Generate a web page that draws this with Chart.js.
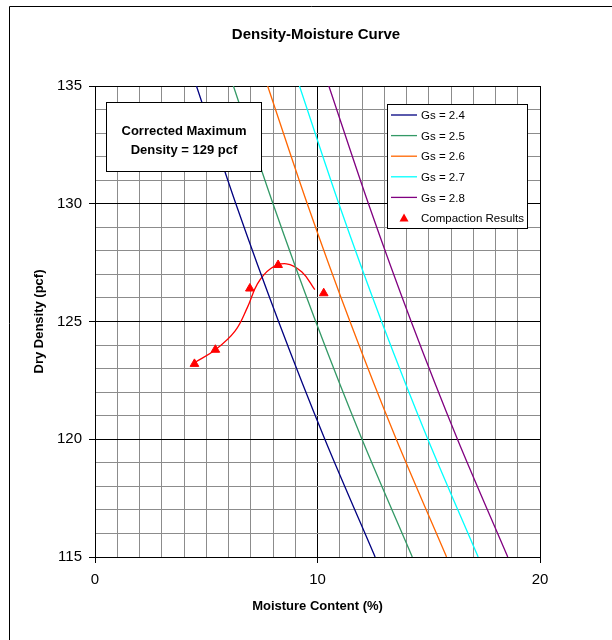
<!DOCTYPE html>
<html>
<head>
<meta charset="utf-8">
<script src="https://cdn.jsdelivr.net/npm/chart.js@4/dist/chart.umd.min.js"></script>
<style>
  html, body { margin: 0; padding: 0; background: #fff; }
  canvas { display: block; }
</style>
</head>
<body>
<canvas id="densityChart" width="612" height="640"></canvas>
<script>
// zero air voids lines, moisture (%) read at each density level
const densityLevels = [135, 130, 125, 120, 115];
const moistGs24 = [4.56, 6.33, 8.25, 10.33, 12.59];
const moistGs25 = [6.22, 8.00, 9.92, 12.00, 14.26];
const moistGs26 = [7.76, 9.54, 11.46, 13.54, 15.80];
const moistGs27 = [9.19, 10.96, 12.88, 14.96, 17.22];
const moistGs28 = [10.51, 12.29, 14.21, 16.29, 18.55];
const gsLabels = ["Gs = 2.4", "Gs = 2.5", "Gs = 2.6", "Gs = 2.7", "Gs = 2.8"];
const gsColors = ["#000080", "#339966", "#ff6600", "#00ffff", "#800080"];

// compaction test results
const compMoisture = [4.47, 5.41, 6.96, 8.23, 10.28];
const compDensity = [123.2, 123.8, 126.4, 127.4, 126.2];

// fitted curve through the results
const fitMoisture = [4.47, 5.41, 6.3, 6.85, 7.3, 7.9, 8.6, 9.3, 9.88];
const fitDensity = [123.25, 123.8, 124.6, 125.6, 126.6, 127.25, 127.45, 127.1, 126.35];

const xTicks = [0, 10, 20];
const yTicks = [115, 120, 125, 130, 135];

const pairs = (xs, ys) => xs.map((x, i) => ({ x: x, y: ys[i] }));

const gsData = [moistGs24, moistGs25, moistGs26, moistGs27, moistGs28];
const datasets = gsData.map((m, i) => ({
  label: gsLabels[i],
  data: pairs(m, densityLevels),
  showLine: true,
  borderColor: gsColors[i],
  borderWidth: 1.3,
  pointRadius: 0,
  tension: 0.3
}));
datasets.push({
  label: "Compaction Results",
  data: pairs(compMoisture, compDensity),
  showLine: false,
  pointStyle: "triangle",
  pointRadius: 5,
  backgroundColor: "#ff0000",
  borderColor: "#ff0000",
  borderWidth: 1
});
datasets.push({
  label: "fit",
  data: pairs(fitMoisture, fitDensity),
  showLine: true,
  borderColor: "#ff0000",
  borderWidth: 1.3,
  pointRadius: 0,
  tension: 0.4
});

const font = "'Liberation Sans', Arial, sans-serif";

const extras = {
  id: "extras",
  afterDraw(chart) {
    const c = chart.ctx;
    c.save();
    // outer frame
    c.strokeStyle = "#000";
    c.lineWidth = 1;
    c.beginPath();
    c.moveTo(9.5, 700); c.lineTo(9.5, 6.5); c.lineTo(700, 6.5);
    c.stroke();

    // title
    c.fillStyle = "#000";
    c.font = "bold 15px " + font;
    c.textAlign = "center";
    c.textBaseline = "middle";
    c.fillText("Density-Moisture Curve", 316, 35);

    // note box
    c.fillStyle = "#fff";
    c.fillRect(106.5, 102.5, 155, 69);
    c.strokeRect(106.5, 102.5, 155, 69);
    c.fillStyle = "#000";
    c.font = "bold 13px " + font;
    c.fillText("Corrected Maximum", 184, 131);
    c.fillText("Density = 129 pcf", 184, 150);

    // legend
    const lx = 387.5, ly = 104.5, lw = 140, lh = 124;
    c.fillStyle = "#fff";
    c.fillRect(lx, ly, lw, lh);
    c.strokeRect(lx, ly, lw, lh);
    c.font = "11.5px " + font;
    c.textAlign = "left";
    const items = chart.data.datasets.slice(0, 6);
    items.forEach((ds, i) => {
      const yy = 115 + i * 20.6;
      if (ds.showLine) {
        c.strokeStyle = ds.borderColor;
        c.lineWidth = 1.3;
        c.beginPath();
        c.moveTo(391, yy); c.lineTo(417, yy);
        c.stroke();
      } else {
        c.fillStyle = "#ff0000";
        c.beginPath();
        c.moveTo(404, yy - 4.5); c.lineTo(408.5, yy + 3.5); c.lineTo(399.5, yy + 3.5);
        c.closePath();
        c.fill();
      }
      c.fillStyle = "#000";
      c.fillText(ds.label, 421, yy + 1);
    });
    c.restore();
  }
};

new Chart(document.getElementById("densityChart"), {
  type: "scatter",
  data: { datasets: datasets },
  options: {
    responsive: false,
    animation: false,
    layout: { padding: { left: 0, top: 86, right: 72, bottom: 0 } },
    plugins: {
      legend: { display: false },
      tooltip: { enabled: false }
    },
    scales: {
      x: {
        type: "linear",
        min: 0,
        max: 20,
        afterFit: (s) => { s.height = 83; },
        ticks: {
          stepSize: 1,
          padding: 8,
          color: "#000",
          font: { family: font, size: 15 },
          autoSkip: false,
          maxRotation: 0,
          callback: (v) => xTicks.includes(v) ? v : ""
        },
        grid: {
          color: (ctx) => ctx.tick && xTicks.includes(ctx.tick.value) ? "#000" : "#8c8c8c",
          tickColor: (ctx) => ctx.tick && xTicks.includes(ctx.tick.value) ? "#000" : "rgba(0,0,0,0)",
          tickLength: 6,
          lineWidth: 1
        },
        border: { color: "#000", width: 1 },
        title: {
          display: true,
          text: "Moisture Content (%)",
          color: "#000",
          font: { family: font, size: 13, weight: "bold" },
          padding: { top: 0, bottom: 26 }
        }
      },
      y: {
        type: "linear",
        min: 115,
        max: 135,
        afterFit: (s) => { s.width = 95; },
        ticks: {
          stepSize: 1,
          padding: 7,
          color: "#000",
          font: { family: font, size: 15 },
          autoSkip: false,
          callback: (v) => yTicks.includes(v) ? v : ""
        },
        grid: {
          color: (ctx) => ctx.tick && yTicks.includes(ctx.tick.value) ? "#000" : "#8c8c8c",
          tickColor: (ctx) => ctx.tick && yTicks.includes(ctx.tick.value) ? "#000" : "rgba(0,0,0,0)",
          tickLength: 6,
          lineWidth: 1
        },
        border: { color: "#000", width: 1 },
        title: {
          display: true,
          text: "Dry Density (pcf)",
          color: "#000",
          font: { family: font, size: 13, weight: "bold" },
          padding: { top: 32, bottom: 0 }
        }
      }
    }
  },
  plugins: [extras]
});
</script>
</body>
</html>
